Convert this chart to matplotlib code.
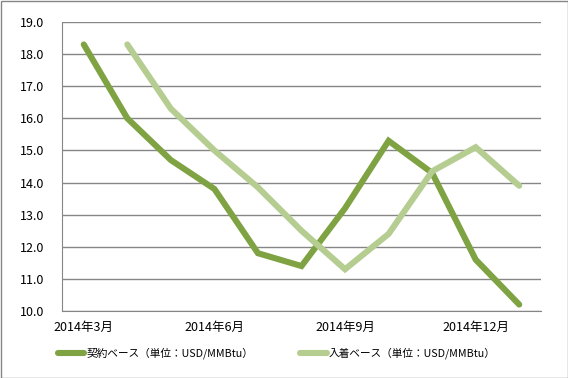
import matplotlib
matplotlib.use('Agg')
import matplotlib.pyplot as plt
from matplotlib.patches import Rectangle

plt.rcParams['font.family'] = ['Noto Sans CJK JP', 'DejaVu Sans']

# データ（2014年3月～2015年1月）
months = ['2014年3月', '2014年4月', '2014年5月', '2014年6月', '2014年7月', '2014年8月',
          '2014年9月', '2014年10月', '2014年11月', '2014年12月', '2015年1月']
contract = [18.3, 16.0, 14.7, 13.8, 11.8, 11.4, 13.2, 15.3, 14.3, 11.6, 10.2]
arrival = [None, 18.3, 16.3, 15.0, 13.85, 12.5, 11.3, 12.4, 14.35, 15.1, 13.9]
label_contract = '契約ベース（単位：USD/MMBtu）'
label_arrival = '入着ベース（単位：USD/MMBtu）'
yticks = [10.0, 11.0, 12.0, 13.0, 14.0, 15.0, 16.0, 17.0, 18.0, 19.0]

C_DARK = '#7FA342'
C_LIGHT = '#B5CD91'

fig = plt.figure(figsize=(5.68, 3.78), dpi=100)
ax = fig.add_axes([62/568, 1-311/378, (541-62)/568, (311-22)/378])

x = list(range(len(months)))
ax.plot(x, contract, color=C_DARK, lw=4.4, solid_capstyle='round', solid_joinstyle='miter',
        label=label_contract)
xa = [i for i, v in zip(x, arrival) if v is not None]
ya = [v for v in arrival if v is not None]
ax.plot(xa, ya, color=C_LIGHT, lw=4.4, solid_capstyle='round', solid_joinstyle='miter',
        label=label_arrival)

ax.set_xlim(-0.5, len(months) - 0.5)
ax.set_ylim(10, 19)
ax.set_yticks(yticks)
ax.set_yticklabels([f'{v:.1f}' for v in yticks], fontsize=9)
ax.set_xticks(x[::3])
ax.set_xticklabels(months[::3], fontsize=9)
ax.tick_params(axis='y', length=0, pad=13)
ax.tick_params(axis='x', length=0, pad=7)
ax.yaxis.grid(True, color='#868686', lw=1.0)
ax.set_axisbelow(True)
for s in ['top', 'right']:
    ax.spines[s].set_visible(False)
ax.spines['left'].set_color('#868686')
ax.spines['bottom'].set_color('#868686')

leg = fig.legend(loc='lower left', bbox_to_anchor=(48/568, 0.025), ncol=2, frameon=False,
                 fontsize=7.7, handlelength=2.5, columnspacing=4.35, handletextpad=0.2)

fig.patches.append(Rectangle((0.5/568, 0.5/378), 1-1/568, 1-1/378, transform=fig.transFigure,
                             fill=False, edgecolor='#868686', lw=1.0))

fig.savefig('out.png', dpi=100)
